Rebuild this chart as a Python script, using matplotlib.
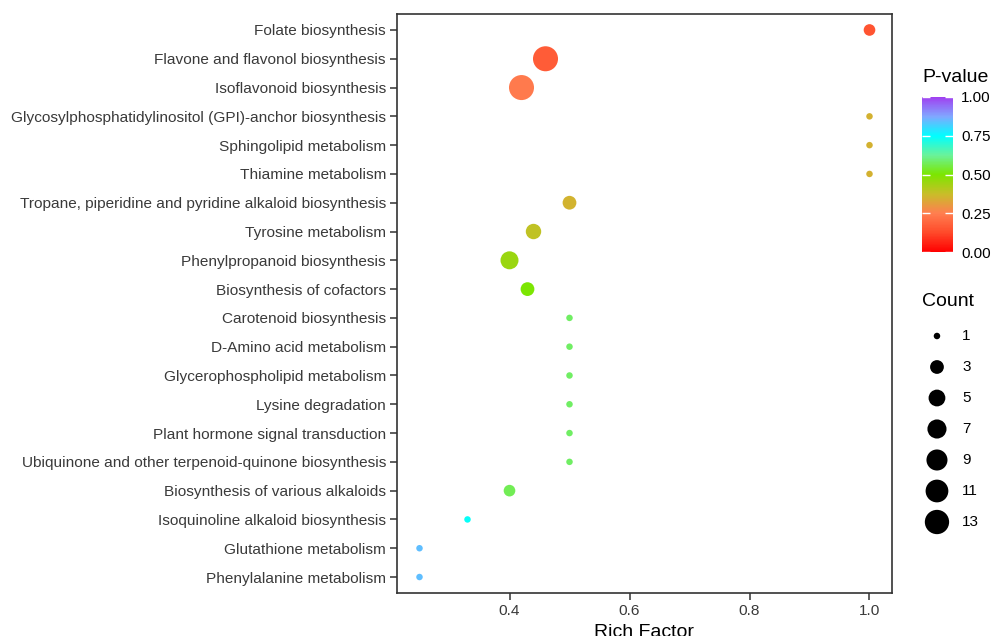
import numpy as np
import matplotlib
matplotlib.use("Agg")
from matplotlib import pyplot as plt
from matplotlib.colors import LinearSegmentedColormap, Normalize

plt.rcParams['font.family'] = ['Liberation Sans', 'DejaVu Sans']

pathways = ["Folate biosynthesis",
            "Flavone and flavonol biosynthesis",
            "Isoflavonoid biosynthesis",
            "Glycosylphosphatidylinositol (GPI)-anchor biosynthesis",
            "Sphingolipid metabolism",
            "Thiamine metabolism",
            "Tropane, piperidine and pyridine alkaloid biosynthesis",
            "Tyrosine metabolism",
            "Phenylpropanoid biosynthesis",
            "Biosynthesis of cofactors",
            "Carotenoid biosynthesis",
            "D-Amino acid metabolism",
            "Glycerophospholipid metabolism",
            "Lysine degradation",
            "Plant hormone signal transduction",
            "Ubiquinone and other terpenoid-quinone biosynthesis",
            "Biosynthesis of various alkaloids",
            "Isoquinoline alkaloid biosynthesis",
            "Glutathione metabolism",
            "Phenylalanine metabolism"]
rich_factor = [1.0, 0.46, 0.42, 1.0, 1.0, 1.0, 0.5, 0.44, 0.4, 0.43,
               0.5, 0.5, 0.5, 0.5, 0.5, 0.5, 0.4, 0.33, 0.25, 0.25]
counts = [2, 14, 14, 1, 1, 1, 3, 4, 6, 3,
          1, 1, 1, 1, 1, 1, 2, 1, 1, 1]
pvalues = [0.15, 0.17, 0.24, 0.35, 0.35, 0.35, 0.355, 0.39, 0.45, 0.5,
           0.58, 0.58, 0.58, 0.58, 0.58, 0.58, 0.57, 0.74, 0.84, 0.84]
legend_counts = [1, 3, 5, 7, 9, 11, 13]
cbar_ticks = [0.0, 0.25, 0.5, 0.75, 1.0]

cmap = LinearSegmentedColormap.from_list("pv", [
    (0.0, '#FF0000'), (0.125, '#FF4A2A'), (0.25, '#FF7F50'),
    (0.375, '#C8BE28'), (0.5, '#7CE600'), (0.625, '#6AF29A'),
    (0.75, '#00FFFF'), (0.875, '#80A8FF'), (1.0, '#A040F0')])


def size_of(c):
    d_px = 6.5 + 5.14 * np.sqrt(np.asarray(c, dtype=float) - 1)
    return (d_px * 0.72) ** 2


fig = plt.figure(figsize=(9.93, 6.36), dpi=100)
ax = fig.add_axes([397 / 993, 1 - 593 / 636, 495 / 993, 579 / 636])

y = np.arange(len(pathways))
sc = ax.scatter(rich_factor, y, s=size_of(counts), c=pvalues, cmap=cmap,
                norm=Normalize(0, 1), linewidths=0, zorder=3)

ax.set_yticks(y)
ax.set_yticklabels(pathways)
ax.set_ylim(len(pathways) - 1 + 0.555, -0.555)
ax.set_xlim(0.2125, 1.0375)
ax.set_xticks([0.4, 0.6, 0.8, 1.0])
ax.set_xticklabels(["0.4", "0.6", "0.8", "1.0"])
ax.tick_params(axis='both', length=5, width=1.1, color='#333333',
               labelsize=11.1, labelcolor='#3A3A3A', pad=3)
for sp in ax.spines.values():
    sp.set_color('#333333')
    sp.set_linewidth(1.2)
ax.set_xlabel("Rich Factor", fontsize=14, labelpad=4)

# colour bar
cax = fig.add_axes([922 / 993, 1 - 252 / 636, 31 / 993, 155 / 636])
cb = fig.colorbar(sc, cax=cax, ticks=cbar_ticks)
cb.outline.set_visible(False)
cb.ax.set_yticklabels(["%.2f" % t for t in cbar_ticks])
cb.ax.tick_params(direction='in', color='white', length=6, width=1,
                  left=True, right=True, labelsize=11, pad=6)
fig.text(922 / 993, 1 - 78 / 636, "P-value", fontsize=14, va='center', ha='left')

# count legend
lax = fig.add_axes([915 / 993, 1 - 538 / 636, 78 / 993, 218 / 636])
ly = np.arange(len(legend_counts))
lax.scatter(np.zeros(len(ly)), ly, s=size_of(legend_counts), c='black', linewidths=0)
for yy, c in zip(ly, legend_counts):
    lax.text(1.15, yy, str(c), fontsize=11, va='center', ha='left')
lax.set_xlim(-1.0, 2.55)
lax.set_ylim(len(ly) - 1 + 0.516, -0.516)
lax.axis('off')
fig.text(922 / 993, 1 - 301 / 636, "Count", fontsize=14, va='center', ha='left')

fig.savefig("out.png", dpi=100)
